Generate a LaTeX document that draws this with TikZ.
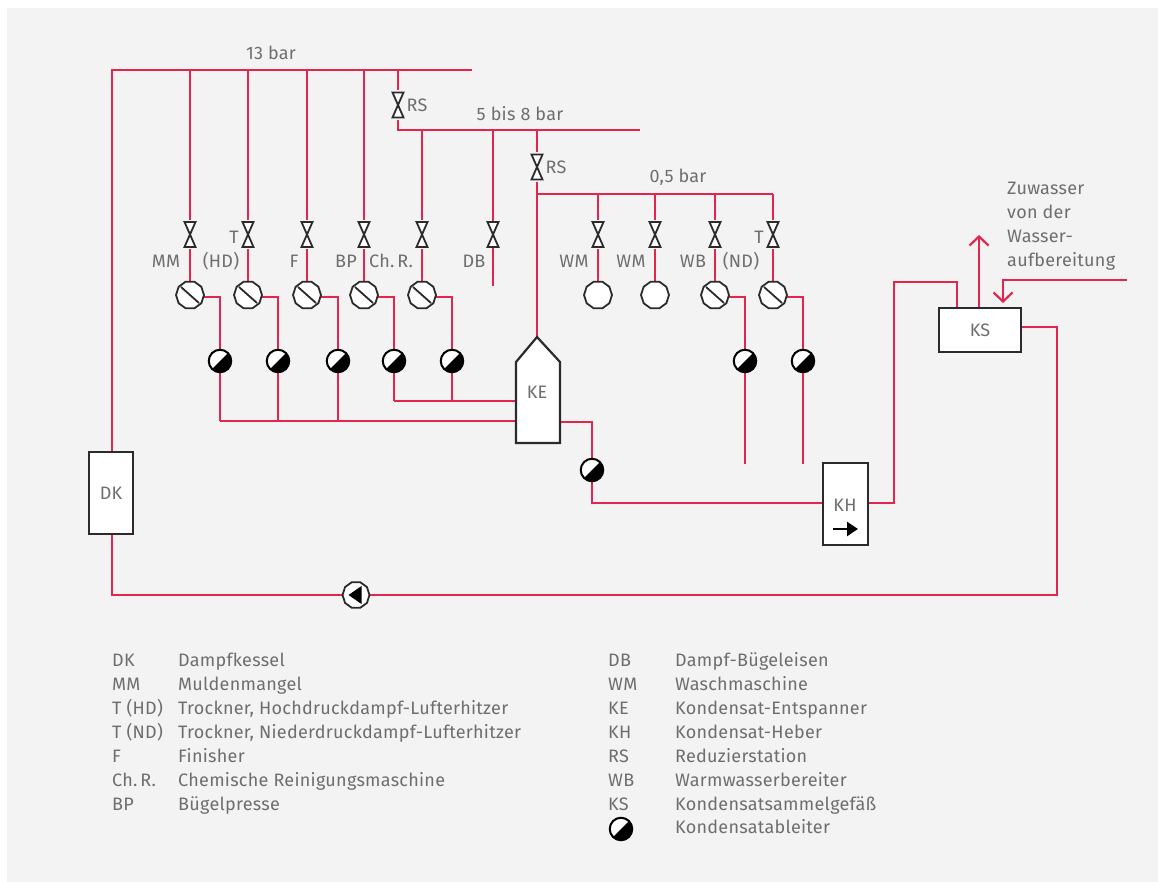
\documentclass[tikz,border=0pt]{standalone}
\usepackage{fontspec}
\setmainfont{Fira Sans}[LetterSpace=1.5]
\usetikzlibrary{calc, shapes.geometric, arrows.meta, backgrounds}
\definecolor{pipered}{HTML}{E2264F}
\definecolor{textgray}{HTML}{6E6E6E}
\definecolor{panelgray}{HTML}{F3F3F3}
\definecolor{boxblack}{HTML}{2B2B2B}
\tikzset{
  pipe/.style={draw=pipered, line width=2.4pt},
  flow/.style={pipe, -{Straight Barb[length=9pt, width=19pt, line width=2.2pt]}},
  caption/.style={text=textgray, font=\fontsize{18}{20}\selectfont, inner sep=0pt},
  legend/.style={caption, anchor=base west},
  unit/.style={draw=boxblack, line width=2.2pt, fill=white, inner sep=0pt},
  valve/.style={inner sep=0pt, minimum width=15pt, minimum height=29pt,
    path picture={
      \draw[boxblack, line width=1.8pt, fill=white]
        ($(path picture bounding box.center)+(-5.5,-12.5)$) -- ++(11,0) -- ++(-11,25) -- ++(11,0) -- cycle;
    }},
  consumer/.style={regular polygon, regular polygon sides=10, draw=boxblack, line width=1.8pt,
    fill=white, inner sep=0pt, minimum size=28pt},
  slashed/.style={consumer, path picture={
      \draw[boxblack, line width=1.8pt] ($(path picture bounding box.center)+(-9,-8)$) -- ++(18,16);
    }},
  trap/.style={circle, draw=black, line width=2pt, fill=white, inner sep=0pt, minimum size=22.5pt,
    path picture={
      \fill[black] (path picture bounding box.north east) -- (path picture bounding box.south west)
        -- (path picture bounding box.south east) -- cycle;
    }},
  pump/.style={consumer, minimum size=27pt, path picture={
      \fill[black] ($(path picture bounding box.center)+(-7.5,0)$) -- ++(13,-9) -- ++(0,18) -- cycle;
    }}
}

\begin{document}
\begin{tikzpicture}[x=1pt, y=-1pt]
  \useasboundingbox (0,0) rectangle (1158,882);

  % headers and free pipe ends
  \coordinate (bus13W) at (112,70);
  \coordinate (bus13E) at (472,70);
  \coordinate (bus8W) at (398,130);
  \coordinate (bus8E) at (640,130);
  \coordinate (bus05W) at (537,194);
  \coordinate (bus05E) at (773,194);
  \coordinate (rise) at (894,282);
  \coordinate (steamOut) at (979,235);
  \coordinate (feedIn) at (1127,280);
  \coordinate (feedEnd) at (1003,303);
  \coordinate (loopE) at (1057,595);
  \coordinate (loopW) at (112,595);

  % units
  \node[unit, caption, minimum width=44pt, minimum height=82pt] (DK) at (111,493) {DK};
  \node[unit, caption, minimum width=82pt, minimum height=44pt] (KS) at (980,330) {KS};
  \node[unit, minimum width=45pt, minimum height=82pt] (KH) at (845.5,504) {};
  \node[caption] (KHtext) at (845,505) {KH};
  \draw[black, line width=2.4pt, -{Triangle[length=11pt, width=14pt]}] (833,529) -- (858,529);
  \draw[unit, line join=miter] (537,337) coordinate (KEtop) -- (560,362) -- (560,443)
    coordinate (KEse) -- (516,443) -- (516,362) -- cycle;
  \node[caption] (KE) at (537,392) {KE};
  \node[pump] (pump) at (356,595) {};
  \node[trap] (trapKE) at (592,470) {};
  \node[valve] (rsA) at (398,105) {};
  \node[valve] (rsB) at (537,167) {};
  \node[valve] (valveDB) at (493,234.5) {};

  \begin{scope}[on background layer]
    \fill[panelgray] (7,8) rectangle (1158,882);
    \draw[pipe] (DK.north -| bus13W) -- (bus13W) -- (bus13E);
    \draw[pipe] (rsA |- bus13W) -- (rsA) -- (bus8W) -- (bus8E);
    \draw[pipe] (rsB |- bus8W) -- (rsB) -- (KEtop);
    \draw[pipe] (bus05W) -- (bus05E);
    \draw[pipe] (valveDB |- bus8W) -- (valveDB |- 0,286);
    % condensate
    \draw[pipe] (220,421) -- (516,421);
    \draw[pipe] (394,401) -- (516,401);
    \draw[pipe] (560,422) -| (trapKE);
    \draw[pipe] (trapKE) |- (KH.west |- 0,503);
    \draw[pipe] (KH.east |- 0,503) -| (rise) -| (KS.north -| 957,0);
    \draw[pipe] (KS.east |- 0,327) -| (loopE) -- (pump) -- (loopW) -- (DK.south -| bus13W);
    \draw[flow] (KS.north -| steamOut) -- (steamOut);
    \draw[flow] (feedIn) -| (feedEnd);
  \end{scope}

  % branches with valve, consumer and trap
  \foreach \x/\top/\trapx/\outy/\name in {
    190/70/220/421/a, 248/70/278/421/b, 307/70/338/421/c, 364/70/394/401/d, 422/130/452/401/e,
    715/194/745/464/f, 773/194/803/464/g}
  {
    \node[trap] (trap\name) at (\trapx,361) {};
    \node[slashed] (head\name) at (\x,295) {};
    \node[valve] (valve\name) at (\x,234.5) {};
    \begin{scope}[on background layer]
      \draw[pipe] (\x,\top) -- (valve\name) -- (head\name);
      \draw[pipe] (\x,297) -| (trap\name) -- (\trapx,\outy);
    \end{scope}
  }

  % branches ending in a plain consumer
  \foreach \x/\name in {598/h, 655/i}
  {
    \node[consumer] (head\name) at (\x,295) {};
    \node[valve] (valve\name) at (\x,234.5) {};
    \begin{scope}[on background layer]
      \draw[pipe] (\x,194) -- (valve\name) -- (head\name);
    \end{scope}
  }

  % pressure and consumer labels
  \foreach \x/\y/\txt/\name in {
    271/53/13 bar/p13, 520/114/5 bis 8 bar/p8, 678/177/{0,5 bar}/p05,
    417/105/RS/lRSa, 556/167/RS/lRSb,
    166/261/MM/lMM, 221/261/(HD)/lHD, 234/237/T/lTa, 294/261/F/lF, 346/261/BP/lBP, 391/261/Ch.\,R./lChR,
    474/261/DB/lDB, 574/261/WM/lWMa, 631/261/WM/lWMb, 693/261/WB/lWB, 741/261/(ND)/lND, 759/237/T/lTb}
  {
    \node[caption] (\name) at (\x,\y) {\txt};
  }
  \foreach \y/\txt/\name in {195/Zuwasser/za, 219/von der/zb, 243/Wasser-/zc, 267/aufbereitung/zd}
  {
    \node[legend] (\name) at (1007,\y) {\txt};
  }

  % legend
  \foreach \y/\abbr/\full/\name in {
    666/DK/Dampfkessel/a, 690/MM/Muldenmangel/b, 714/T (HD)/{Trockner, Hochdruckdampf-Lufterhitzer}/c,
    738/T (ND)/{Trockner, Niederdruckdampf-Lufterhitzer}/d, 762/F/Finisher/e,
    786/Ch.\,R./Chemische Reinigungsmaschine/f, 810/BP/Bügelpresse/g}
  {
    \node[legend] (keyL\name) at (112,\y) {\abbr};
    \node[legend] (textL\name) at (178,\y) {\full};
  }
  \foreach \y/\abbr/\full/\name in {
    666/DB/Dampf-Bügeleisen/a, 690/WM/Waschmaschine/b, 714/KE/Kondensat-Entspanner/c,
    738/KH/Kondensat-Heber/d, 762/RS/Reduzierstation/e, 786/WB/Warmwasserbereiter/f, 810/KS/Kondensatsammelgefäß/g}
  {
    \node[legend] (keyR\name) at (608,\y) {\abbr};
    \node[legend] (textR\name) at (675,\y) {\full};
  }
  \node[trap] (keyTrap) at (621,829) {};
  \node[legend] (textTrap) at (675,833) {Kondensatableiter};
\end{tikzpicture}
\end{document}
